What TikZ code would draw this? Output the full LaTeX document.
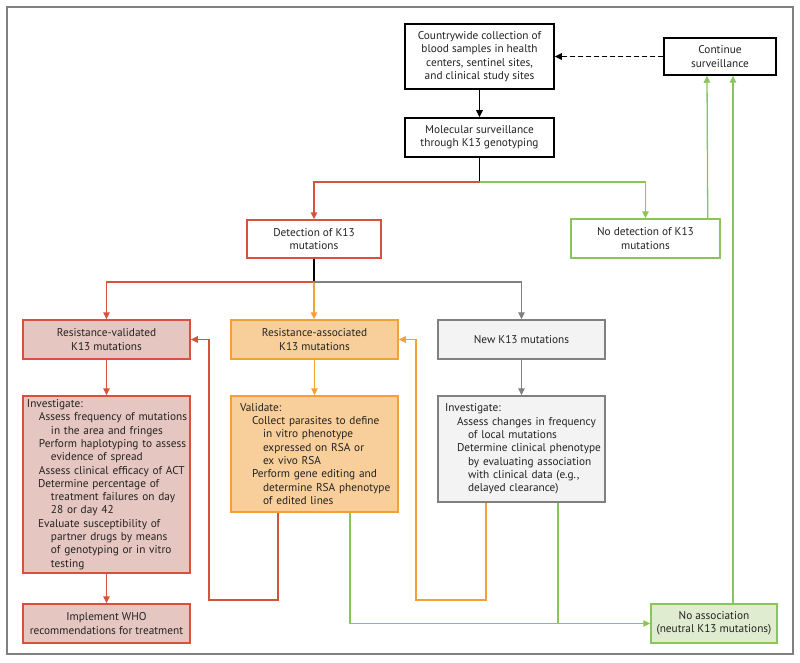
\documentclass[tikz,border=0pt]{standalone}
\usepackage{fontspec}
\setmainfont{PT Sans}
\usetikzlibrary{arrows.meta,calc}
\definecolor{txt}{RGB}{35,35,35}
\definecolor{redB}{RGB}{214,82,60}
\definecolor{redF}{RGB}{230,198,192}
\definecolor{orgB}{RGB}{242,162,52}
\definecolor{orgF}{RGB}{248,207,154}
\definecolor{gryB}{RGB}{128,128,128}
\definecolor{gryF}{RGB}{243,243,243}
\definecolor{grnB}{RGB}{140,196,92}
\definecolor{grnF}{RGB}{223,236,207}
\newcommand\bxline[2]{\hspace*{#1}\mbox{#2}}
\begin{document}
\begin{tikzpicture}[x=1pt,y=-1pt,
  font=\fontsize{11.3}{13.3}\selectfont, text=txt,
  bx/.style={draw, line width=1.5pt, inner sep=0pt, align=center, fill=white},
  blkbox/.style={bx, draw=black},
  redbox/.style={bx, draw=redB},
  grnbox/.style={bx, draw=grnB},
  redfill/.style={bx, draw=redB, fill=redF},
  orgfill/.style={bx, draw=orgB, fill=orgF},
  gryfill/.style={bx, draw=gryB, fill=gryF},
  grnfill/.style={bx, draw=grnB, fill=grnF},
  conn/.style={line width=1.3pt},
  blkline/.style={conn, draw=black},
  redline/.style={conn, draw=redB},
  orgline/.style={conn, draw=orgB},
  gryline/.style={conn, draw=gryB},
  grnline/.style={conn, draw=grnB},
  arr/.style={-{Triangle[length=7pt,width=6.5pt]}},
  frame/.style={draw=gryB, line width=1.2pt}
]
\useasboundingbox (0,0) rectangle (800,663);
\draw[frame] (7,7) rectangle (793,654);

% top row
\node[blkbox, minimum width=149pt, minimum height=65pt] (count) at (479.5,56.5)
  {Countrywide collection of\\blood samples in health\\centers, sentinel sites,\\and clinical study sites};
\node[blkbox, minimum width=112pt, minimum height=37pt] (cont) at (720,56.5)
  {Continue\\surveillance};
\node[blkbox, minimum width=149pt, minimum height=39pt] (mol) at (479.5,137.5)
  {Molecular surveillance\\through K13 genotyping};
\node[redbox, minimum width=134pt, minimum height=38pt] (det) at (314,239)
  {Detection of K13\\mutations};
\node[grnbox, minimum width=149pt, minimum height=39pt] (nodet) at (645.5,238.5)
  {No detection of K13\\mutations};

% category row
\node[redfill, minimum width=167pt, minimum height=39pt] (rv) at (106.5,339.5)
  {Resistance-validated\\K13 mutations};
\node[orgfill, minimum width=167pt, minimum height=39pt] (ra) at (314.5,339.5)
  {Resistance-associated\\K13 mutations};
\node[gryfill, minimum width=167pt, minimum height=39pt] (nk) at (521.5,339.5)
  {New K13 mutations};

% detail row
\node[redfill, minimum width=167pt, minimum height=177pt, align=left,
      text width=159pt, inner xsep=4pt] (inv1) at (106.5,484.5)
  {Investigate:\\
   \bxline{12pt}{Assess frequency of mutations}\\
   \bxline{24pt}{in the area and fringes}\\
   \bxline{12pt}{Perform haplotyping to assess}\\
   \bxline{24pt}{evidence of spread}\\
   \bxline{12pt}{Assess clinical efficacy of ACT}\\
   \bxline{11pt}{Determine percentage of}\\
   \bxline{24pt}{treatment failures on day}\\
   \bxline{24pt}{28 or day 42}\\
   \bxline{11pt}{Evaluate susceptibility of}\\
   \bxline{24pt}{partner drugs by means}\\
   \bxline{24pt}{of genotyping or in vitro}\\
   \bxline{24pt}{testing}};
\node[orgfill, minimum width=167pt, minimum height=116pt, align=left,
      text width=149pt, inner xsep=9pt] (val) at (314.5,454)
  {Validate:\\
   \bxline{12pt}{Collect parasites to define}\\
   \bxline{23pt}{in vitro phenotype}\\
   \bxline{23pt}{expressed on RSA or}\\
   \bxline{23pt}{ex vivo RSA}\\
   \bxline{12pt}{Perform gene editing and}\\
   \bxline{23pt}{determine RSA phenotype}\\
   \bxline{23pt}{of edited lines}};
\node[gryfill, minimum width=167pt, minimum height=106pt, align=left,
      text width=153pt, inner xsep=7pt] (inv2) at (521.5,449)
  {Investigate:\\
   \bxline{12pt}{Assess changes in frequency}\\
   \bxline{23pt}{of local mutations}\\
   \bxline{12pt}{Determine clinical phenotype}\\
   \bxline{23pt}{by evaluating association}\\
   \bxline{23pt}{with clinical data (e.g.,}\\
   \bxline{23pt}{delayed clearance)}};

% bottom row
\node[redfill, minimum width=167pt, minimum height=39pt] (impl) at (106.5,623.5)
  {Implement WHO\\recommendations for treatment};
\node[grnfill, minimum width=126pt, minimum height=39pt] (noa) at (714,623.5)
  {No association\\(neutral K13 mutations)};

% connectors
\draw[blkline, arr] (count) -- (mol);
\draw[blkline, arr, dash pattern=on 5pt off 3pt] (cont.west) -- (count.east);
\coordinate (s1) at (479.5,182);
\draw[blkline] (mol.south) -- (s1);
\draw[redline, arr] (s1) -| (det.north);
\draw[grnline, arr] (s1) -| (nodet.north);
\draw[grnline, arr] ([xshift=-13pt]nodet.north east) -- ([xshift=-13pt]cont.south);
\draw[grnline, arr] ([xshift=13pt]cont.south |- noa.north) -- ([xshift=13pt]cont.south);

\coordinate (s2) at (314,282);
\draw[blkline] (det.south) -- (s2);
\draw[redline, arr] (s2) -| (rv.north);
\draw[orgline, arr] (s2) -- (s2 |- ra.north);
\draw[gryline, arr] (s2) -| (nk.north);

\draw[redline, arr] (rv) -- (inv1);
\draw[redline, arr] (inv1) -- (impl);
\draw[orgline, arr] (ra) -- (val);
\draw[gryline, arr] (nk) -- (inv2);

\coordinate (rl) at (209,600);
\coordinate (ol) at (416,600);
\draw[redline, arr] ([xshift=-36.5pt]val.south) |- (rl) |- (rv.east);
\draw[orgline, arr] ([xshift=-35.5pt]inv2.south) |- (ol) |- (ra.east);
\draw[grnline, arr] ([xshift=35.5pt]val.south) |- (noa.west);
\draw[grnline] ([xshift=36.5pt]inv2.south) -- ([xshift=36.5pt]inv2.south |- noa.west);
\end{tikzpicture}
\end{document}
